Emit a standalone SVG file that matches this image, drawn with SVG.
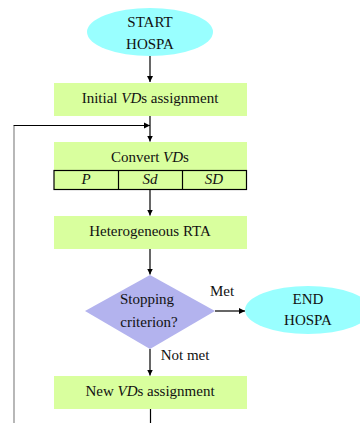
<svg xmlns="http://www.w3.org/2000/svg" width="360" height="423" viewBox="0 0 360 423">
<style>
text{font-family:"Liberation Serif","Times New Roman",serif;font-size:15px;fill:#111;text-anchor:middle}
.term{fill:#99FFFF}
.box{fill:#D9FF9E}
.dec{fill:#B3B3EE}
.ln{stroke:#000;stroke-width:1.2;fill:none}
</style>
<defs>
<marker id="ah" markerWidth="7" markerHeight="7" refX="6" refY="3.5" orient="auto" markerUnits="userSpaceOnUse">
<path d="M0,0.5 L6,3.5 L0,6.5 Z" fill="#000"/>
</marker>
</defs>
<g id="start">
<ellipse class="term" cx="150" cy="32" rx="63" ry="24"/>
<text x="150" y="26.5">START</text>
<text x="150" y="48.5">HOSPA</text>
</g>
<g id="initial">
<rect class="box" x="54" y="83" width="193" height="33"/>
<text x="150" y="103">Initial <tspan font-style="italic">VD</tspan>s assignment</text>
</g>
<g id="convert">
<rect class="box" x="54" y="142" width="193" height="47.5"/>
<text x="150" y="162">Convert <tspan font-style="italic">VD</tspan>s</text>
<rect x="54" y="170.5" width="192.5" height="19" fill="none" stroke="#000" stroke-width="1.2"/>
<line x1="118.5" y1="170.5" x2="118.5" y2="189.5" stroke="#000" stroke-width="1.2"/>
<line x1="182.5" y1="170.5" x2="182.5" y2="189.5" stroke="#000" stroke-width="1.2"/>
<text x="86" y="183.5" font-style="italic">P</text>
<text x="150" y="183.5" font-style="italic">Sd</text>
<text x="214" y="183.5" font-style="italic">SD</text>
</g>
<g id="rta">
<rect class="box" x="54" y="216" width="193" height="33"/>
<text x="150" y="236">Heterogeneous RTA</text>
</g>
<g id="decision">
<polygon class="dec" points="150,275 215,311 150,349 85,311"/>
<text x="147" y="303.5">Stopping</text>
<text x="149" y="327">criterion?</text>
</g>
<g id="end">
<ellipse class="term" cx="308" cy="310" rx="63" ry="24"/>
<text x="308" y="303.5">END</text>
<text x="308" y="324.5">HOSPA</text>
</g>
<g id="newvds">
<rect class="box" x="54" y="376" width="193" height="33"/>
<text x="150" y="396">New <tspan font-style="italic">VD</tspan>s assignment</text>
</g>
<g id="connectors">
<line class="ln" x1="150" y1="56" x2="150" y2="82" marker-end="url(#ah)"/>
<line class="ln" x1="150" y1="116" x2="150" y2="141.5" marker-end="url(#ah)"/>
<line class="ln" x1="150" y1="189.5" x2="150" y2="215.5" marker-end="url(#ah)"/>
<line class="ln" x1="150" y1="249" x2="150" y2="274.5" marker-end="url(#ah)"/>
<line class="ln" x1="215" y1="311" x2="245" y2="311" marker-end="url(#ah)"/>
<line class="ln" x1="150" y1="349" x2="150" y2="375.5" marker-end="url(#ah)"/>
<line class="ln" x1="150.5" y1="409" x2="150.5" y2="423"/>
<line x1="14" y1="126" x2="14" y2="423" stroke="#888" stroke-width="1.2"/>
<line class="ln" x1="13.5" y1="125.5" x2="150" y2="125.5" marker-end="url(#ah)"/>
<text x="222" y="295.5">Met</text>
<text x="185" y="360">Not met</text>
</g>
</svg>
